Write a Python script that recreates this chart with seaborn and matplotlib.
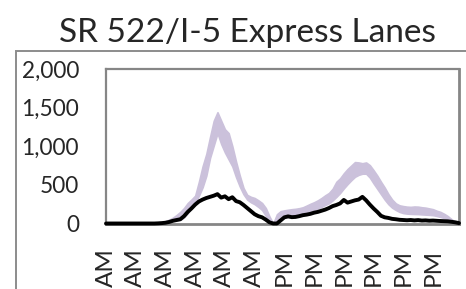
import numpy as np
import pandas as pd
import matplotlib
matplotlib.use("Agg")
import matplotlib.pyplot as plt
from matplotlib.patches import Rectangle
import seaborn as sns

# 15-minute volumes over one day (96 intervals)
band_high = [10, 8, 6, 5, 4, 4, 3, 3, 4, 5, 6, 8, 10, 12, 15, 20,
             30, 50, 75, 110, 150, 200, 265, 310, 360, 540, 740, 900, 1120, 1330, 1440, 1330,
             1220, 1170, 1000, 800, 620, 460, 370, 345, 330, 300, 265, 200, 90, 0, 120, 160,
             170, 178, 185, 190, 198, 210, 232, 255, 275, 300, 330, 365, 395, 450, 540, 585,
             650, 705, 750, 795, 790, 780, 790, 755, 690, 620, 540, 465, 380, 310, 260, 235,
             225, 218, 215, 220, 218, 210, 205, 195, 185, 165, 150, 125, 95, 55, 20, 0]
band_low = [3, 2, 2, 1, 1, 1, 1, 1, 2, 2, 3, 4, 5, 6, 8, 10,
            15, 25, 35, 42, 48, 80, 135, 210, 265, 360, 470, 620, 850, 1010, 1170, 1030,
            920, 830, 740, 600, 480, 380, 310, 275, 250, 215, 175, 100, 30, 0, 55, 70,
            78, 86, 95, 102, 110, 125, 145, 162, 178, 195, 215, 240, 262, 300, 345, 395,
            455, 510, 560, 605, 630, 645, 645, 595, 520, 450, 380, 310, 250, 205, 175, 150,
            135, 128, 125, 123, 122, 118, 115, 112, 108, 98, 85, 70, 50, 25, 8, 0]
day_volume = [0, 0, 0, 0, 0, 0, 0, 0, 0, 0, 0, 0, 0, 0, 2, 5,
              10, 20, 35, 45, 55, 95, 150, 195, 245, 285, 310, 330, 345, 360, 380, 335,
              352, 315, 340, 290, 275, 240, 200, 160, 120, 95, 80, 50, 15, 0, 0, 40,
              80, 92, 82, 85, 95, 108, 115, 125, 140, 150, 165, 180, 200, 225, 240, 260,
              305, 270, 285, 300, 310, 345, 300, 245, 195, 150, 100, 80, 72, 60, 55, 48,
              45, 42, 45, 40, 44, 38, 40, 36, 38, 35, 32, 30, 28, 22, 15, 5]
# only the AM/PM part of each time label is visible in the chart
tick_labels = ["AM", "AM", "AM", "AM", "AM", "AM",
               "PM", "PM", "PM", "PM", "PM", "PM"]
y_ticks = [0, 500, 1000, 1500, 2000]

df = pd.DataFrame({"t": np.arange(len(day_volume)), "high": band_high,
                   "low": band_low, "vol": day_volume})

sns.set_style("white")
plt.rcParams["font.family"] = ["Lato", "DejaVu Sans"]

grey = "#868686"
fig = plt.figure(figsize=(4.66, 2.89), dpi=100)
ax = fig.add_axes([106 / 466, (289 - 223.5) / 289, 353 / 466, 154.5 / 289])

ax.fill_between(df["t"], df["low"], df["high"], color="#cbc1db", linewidth=1.2,
                edgecolor="#cbc1db")
sns.lineplot(data=df, x="t", y="vol", color="black", linewidth=2.8, ax=ax,
             clip_on=False, zorder=5)

ax.set_xlim(0, len(day_volume) - 1)
ax.set_ylim(0, 2000)
ax.set_xticks(df["t"][::8])
ax.set_xticklabels(tick_labels, rotation=90, fontsize=17.5)
ax.set_yticks(y_ticks)
ax.set_yticklabels([f"{v:,}" for v in y_ticks], fontsize=16.3)
ax.set_xlabel("")
ax.set_ylabel("")

for side, lw in [("left", 1.6), ("top", 1.6), ("right", 2.0), ("bottom", 2.0)]:
    ax.spines[side].set_visible(True)
    ax.spines[side].set_color(grey)
    ax.spines[side].set_linewidth(lw)
ax.tick_params(axis="both", direction="out", length=5, width=1.2, color=grey)
ax.tick_params(axis="y", pad=14.5)
ax.tick_params(axis="x", pad=13)

# chart area border (cropped by the image edges)
fig.add_artist(Rectangle((16 / 466, -0.1), 1.0, 0.1 + (289 - 51) / 289,
                         transform=fig.transFigure, fill=False,
                         edgecolor="#8c8c8c", linewidth=1.4))

fig.text(247 / 466, 1 - 42 / 289, "SR 522/I-5 Express Lanes", ha="center",
         va="baseline", fontsize=24)

fig.savefig("out.png", dpi=100)
